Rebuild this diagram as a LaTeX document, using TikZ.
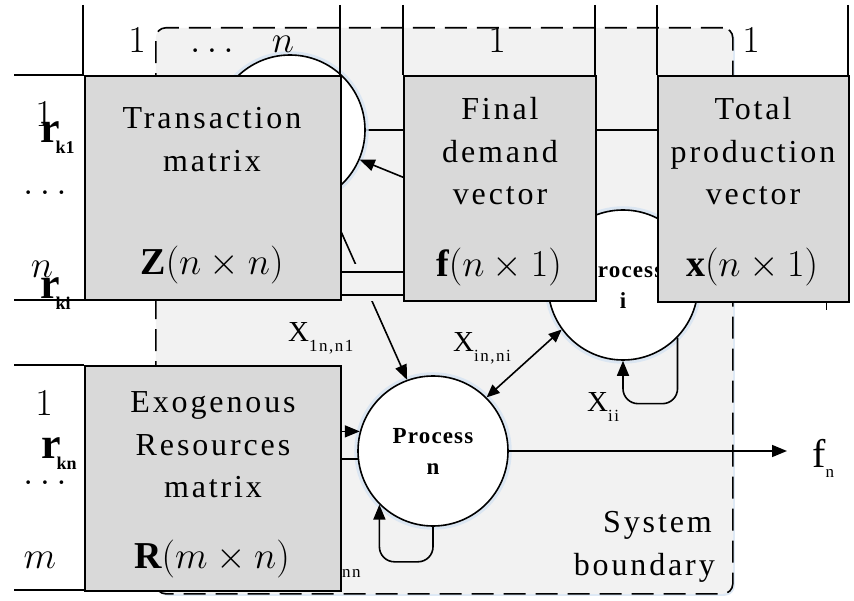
\RequirePackage{fix-cm}
\documentclass[tikz,border=0pt]{standalone}
\usepackage{fontspec}
\setmainfont{Liberation Serif}
\newfontfamily\ls[LetterSpace=9]{Liberation Serif}
\newfontfamily\lsb[LetterSpace=5]{Liberation Serif}
\usetikzlibrary{arrows.meta,shadows,calc}
\definecolor{boxgray}{HTML}{D9D9D9}
\definecolor{bndgray}{HTML}{F2F2F2}
\definecolor{glow}{HTML}{D6E4F3}
\newcommand{\fs}[1]{\fontsize{#1}{#1}\selectfont}
\newcommand{\rlab}[1]{{\fs{44}\bfseries r}\kern-4pt\raisebox{-11pt}{\fs{18}\bfseries #1}}
\newcommand{\xlab}[2]{{\fs{29}\ls #1}\raisebox{-10pt}{\fs{17}\ls #2}}
\begin{document}
\begin{tikzpicture}[x=1pt,y=-1pt,
  ln/.style={line width=1.6pt},
  arr/.style={line width=1.6pt,-{Triangle[length=15pt,width=12pt]}},
  darr/.style={line width=1.6pt,{Triangle[length=13pt,width=11pt]}-{Triangle[length=13pt,width=11pt]}},
  box/.style={draw,line width=1.6pt,fill=boxgray,anchor=north west,inner sep=0pt},
  proc/.style={circle,draw,fill=white,line width=1.6pt,minimum size=150pt,inner sep=0pt,align=center,
     font=\fontsize{23}{31}\selectfont\lsb\bfseries,
     drop shadow={shadow xshift=0pt,shadow yshift=0pt,shadow scale=1.05,fill=glow,opacity=.8}},
  txt/.style={anchor=base,inner sep=0pt,font=\fs{32}\ls},
  mth/.style={anchor=base,inner sep=0pt,font=\fs{38}},
  lab/.style={anchor=base west,inner sep=0pt}]
\useasboundingbox (0,0) rectangle (854,601);
% system boundary
\node[draw,line width=1.6pt,dash pattern=on 22pt off 10pt,fill=bndgray,rounded corners=10pt,
  anchor=north west,inner sep=0pt,minimum width=577pt,minimum height=566pt,
  drop shadow={shadow xshift=2pt,shadow yshift=-2pt,fill=glow,opacity=.8}] (sb) at (155,27) {};
% table row line behind the circles
\draw[ln] (340,130) -- (657,130);
% processes
\node[proc] (p1) at (290,130) {Process\\1};
\node[proc] (pi) at (623,285) {Process\\i};
\node[proc] (pn) at (433,451) {Process\\n};
% flows
\draw[arr] (pi.145) -- (p1.-23);
\draw[arr] (p1.-62) -- (pn.110);
\draw[darr] (pn.45) -- (pi.216);
\draw[arr,rounded corners=15pt] (pi.-44) -- ++(0,66) -| (pi.south);
\draw[arr,rounded corners=15pt] (pn.south) -- ++(0,35) -| (pn.-135);
\coordinate (fend) at (787,451);
\draw[arr] (pn) -- (fend);
\node[lab] (xnn) at (321,567) {\xlab{X}{nn}};
% gap between Z and f
\fill[bndgray] (341,264) rectangle (402,301);
\draw[ln] (340,272) -- (403,272);
\draw[ln] (340,295) -- (403,295);
% matrices and vectors
\node[box,minimum width=256pt,minimum height=224pt] (Z) at (84,75) {};
\node[box,minimum width=192pt,minimum height=225pt] (F) at (403,75) {};
\node[box,minimum width=191pt,minimum height=226pt] (X) at (657,75) {};
\node[box,minimum width=256pt,minimum height=225pt] (R) at (84,365) {};
\draw[arr] (R.east |- pn.165) -- (pn.165);
\draw[ln] (R.east |- pn.186) -- (pn.186);
% table lines
\foreach \x in {83,340,403,595,657,848} \draw[ln] (\x,5) -- (\x,75);
\foreach \y in {75,300,365,590} \draw[ln] (14,\y) -- (84,\y);
\draw[line width=1pt] (826,302) -- (826,310);
% box texts
\node[txt] at (212,129) {Transaction};
\node[txt] at (212,172) {matrix};
\node[mth] at (212,275) {$\mathbf{Z}(n\times n)$};
\node[txt] at (500,120) {Final};
\node[txt] at (500,163) {demand};
\node[txt] at (500,205) {vector};
\node[mth] at (499,277) {$\mathbf{f}(n\times 1)$};
\node[txt] at (753,120) {Total};
\node[txt] at (753,163) {production};
\node[txt] at (753,205) {vector};
\node[mth] at (752,277) {$\mathbf{x}(n\times 1)$};
\node[txt] at (213,413) {Exogenous};
\node[txt] at (213,455) {Resources};
\node[txt] at (213,497) {matrix};
\node[mth] at (212,568) {$\mathbf{R}(m\times n)$};
% headers
\node[mth] at (137,53) {$1$};
\node[mth] at (212,53) {$\ldots$};
\node[mth] at (283,53) {$n$};
\node[mth] at (497,53) {$1$};
\node[mth] at (751,53) {$1$};
% row labels
\node[mth] at (44,127) {$1$};
\node[lab] at (40,143) {\rlab{k1}};
\node[mth] at (45,195) {$\ldots$};
\node[mth] at (42,278) {$n$};
\node[lab] at (40,299) {\rlab{ki}};
\node[mth] at (44,416) {$1$};
\node[lab] at (41,458) {\rlab{kn}};
\node[mth] at (45,484) {$\ldots$};
\node[mth] at (40,568) {$m$};
% flow labels
\node[lab] at (288,342) {\xlab{X}{1n,n1}};
\node[lab] at (453,352) {\xlab{X}{in,ni}};
\node[lab] at (587,411) {\xlab{X}{ii}};
\node[lab] at (812,467) {{\fs{40}f}\raisebox{-10pt}{\fs{17}n}};
\node[txt,anchor=base east] at (712,532) {System};
\node[txt,anchor=base east] at (715,575) {boundary};
\end{tikzpicture}
\end{document}
